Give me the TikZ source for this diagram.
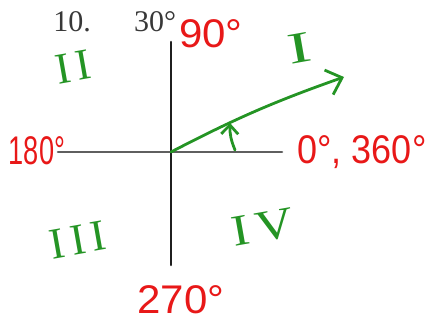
\documentclass[tikz,border=0pt]{standalone}
\usepackage{fontspec}
\setmainfont{Liberation Serif}
\newfontfamily\penfont{Liberation Sans}
\usetikzlibrary{arrows.meta}
\definecolor{penred}{RGB}{232,24,24}
\definecolor{pengreen}{RGB}{36,148,36}
\definecolor{axisgray}{RGB}{95,95,95}
\tikzset{
    anglepic/.style={
        x=1pt, y=-1pt,
        line cap = round, line join = round,
    },
    deglabel/.style={text=penred, inner sep=0pt,
        font=\penfont\fontsize{40}{40}\selectfont},
    quadlabel/.style={text=pengreen, inner sep=0pt, rotate=10,
        font=\fontsize{44}{44}\selectfont},
    printlabel/.style={text=black!78, inner sep=0pt,
        font=\fontsize{30}{30}\selectfont},
    axisline/.style={line width=2.6pt},
    penline/.style={pengreen, line width=2.8pt},
}
\newcommand{\squeeze}[2]{\scalebox{#1}[1]{#2}}
\newcommand{\penarrow}{-{Straight Barb[length=14pt,width=26pt]}}

\begin{document}
\begin{tikzpicture}[anglepic]
\useasboundingbox (0,0) rectangle (430,326);
% axes
\coordinate (O) at (171,152);
\coordinate (ytop) at (171,42);
\coordinate (ybot) at (171,265);
\coordinate (xleft) at (58,152);
\coordinate (xright) at (282,152);
\draw[axisline, axisgray] (xleft) -- (xright);
\draw[axisline, black!88] (ytop) -- (ybot);
% printed text
\node[printlabel] (num) at (72,22) {10.};
\node[printlabel] (given) at (155,22) {30°};
% angle labels
\node[deglabel] (d90) at (211,34) {\squeeze{1.05}{90°}};
\node[deglabel] (d180) at (37,151) {\squeeze{0.68}{180°}};
\node[deglabel] (d0) at (362,152) {\squeeze{0.9}{0°, 360°}};
\node[deglabel] (d270) at (181,300) {\squeeze{1.05}{270°}};
% quadrants
\node[quadlabel] (q1) at (300,48) {\squeeze{1.6}{I}};
\node[quadlabel] (q2) at (73,67) {I\kern6pt I};
\node[quadlabel] (q3) at (78,240) {I\kern6pt I\kern6pt I};
\node[quadlabel] (q4) at (263,227) {\squeeze{1.2}{I\kern6pt V}};
% terminal side and rotation
\coordinate (tip) at (344,77);
\draw[penline, \penarrow] (O) to[bend left=4] (tip);
\coordinate (rotfrom) at (235,150);
\coordinate (rotto) at (230,123);
\draw[penline, -{Straight Barb[length=9pt,width=17pt]}] (rotfrom) to[bend left=12] (rotto);
\end{tikzpicture}
\end{document}
